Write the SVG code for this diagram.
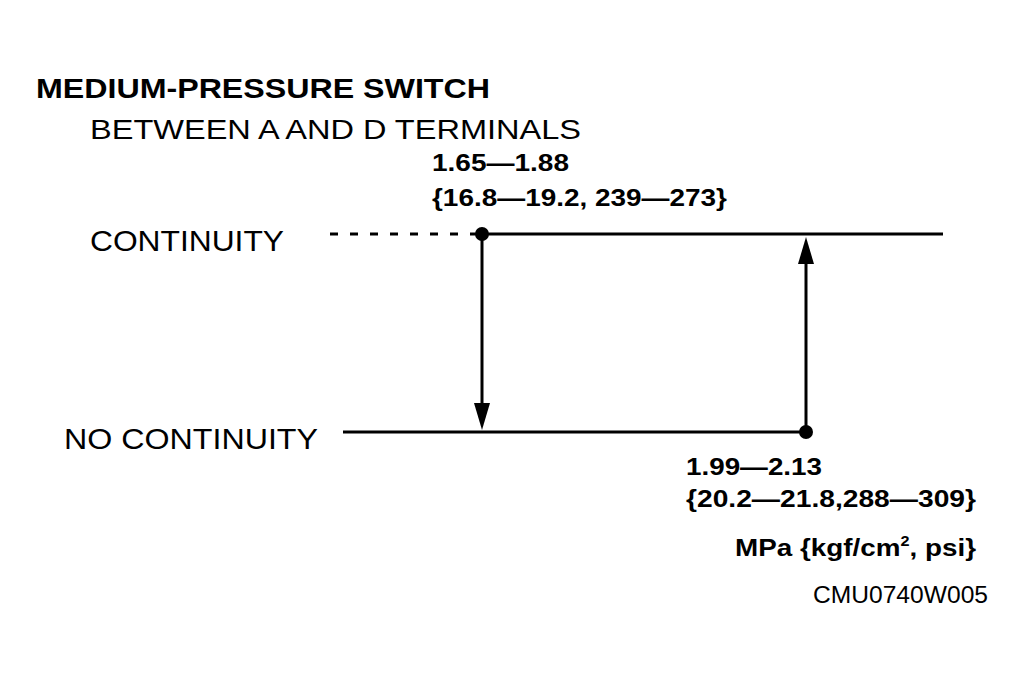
<svg xmlns="http://www.w3.org/2000/svg" width="1024" height="678" viewBox="0 0 1024 678">
<style>
text{font-family:"Liberation Sans",Arial,sans-serif;fill:#000}
.b{font-weight:bold}
.ln{stroke:#000;stroke-width:3;fill:none}
</style>
<rect width="1024" height="678" fill="#fff"/>
<g id="title">
<text class="b" x="36" y="98" font-size="28" textLength="454" lengthAdjust="spacingAndGlyphs">MEDIUM-PRESSURE SWITCH</text>
<text x="90" y="139" font-size="28" textLength="491" lengthAdjust="spacingAndGlyphs">BETWEEN A AND D TERMINALS</text>
</g>
<g id="label-continuity"><text x="90" y="251" font-size="30" textLength="194" lengthAdjust="spacingAndGlyphs">CONTINUITY</text></g>
<g id="label-no-continuity"><text x="64" y="449" font-size="30" textLength="254" lengthAdjust="spacingAndGlyphs">NO CONTINUITY</text></g>
<g id="label-off">
<text class="b" x="432" y="171" font-size="24" textLength="137" lengthAdjust="spacingAndGlyphs">1.65—1.88</text>
<text class="b" x="432" y="206" font-size="24" textLength="295" lengthAdjust="spacingAndGlyphs">{16.8—19.2, 239—273}</text>
</g>
<g id="label-on">
<text class="b" x="686" y="475" font-size="24" textLength="136" lengthAdjust="spacingAndGlyphs">1.99—2.13</text>
<text class="b" x="686" y="507" font-size="24" textLength="290" lengthAdjust="spacingAndGlyphs">{20.2—21.8,288—309}</text>
</g>
<g id="units"><text class="b" x="735" y="556" font-size="24" textLength="241" lengthAdjust="spacingAndGlyphs">MPa {kgf/cm<tspan font-size="14" dy="-10">2</tspan><tspan dy="10">, psi}</tspan></text></g>
<g id="code"><text x="813" y="603" font-size="23" textLength="175" lengthAdjust="spacingAndGlyphs">CMU0740W005</text></g>
<g id="connectors">
<line class="ln" x1="330" y1="234" x2="480" y2="234" stroke-dasharray="8,12"/>
<line class="ln" x1="482" y1="234" x2="943" y2="234"/>
<line class="ln" x1="343" y1="432" x2="806" y2="432"/>
<line class="ln" x1="482" y1="234" x2="482" y2="405"/>
<polygon points="474,403 490,403 482,430"/>
<line class="ln" x1="806" y1="432" x2="806" y2="262"/>
<polygon points="798,264 814,264 806,237"/>
<circle cx="482" cy="234" r="7"/>
<circle cx="806" cy="432" r="7"/>
</g>
</svg>
